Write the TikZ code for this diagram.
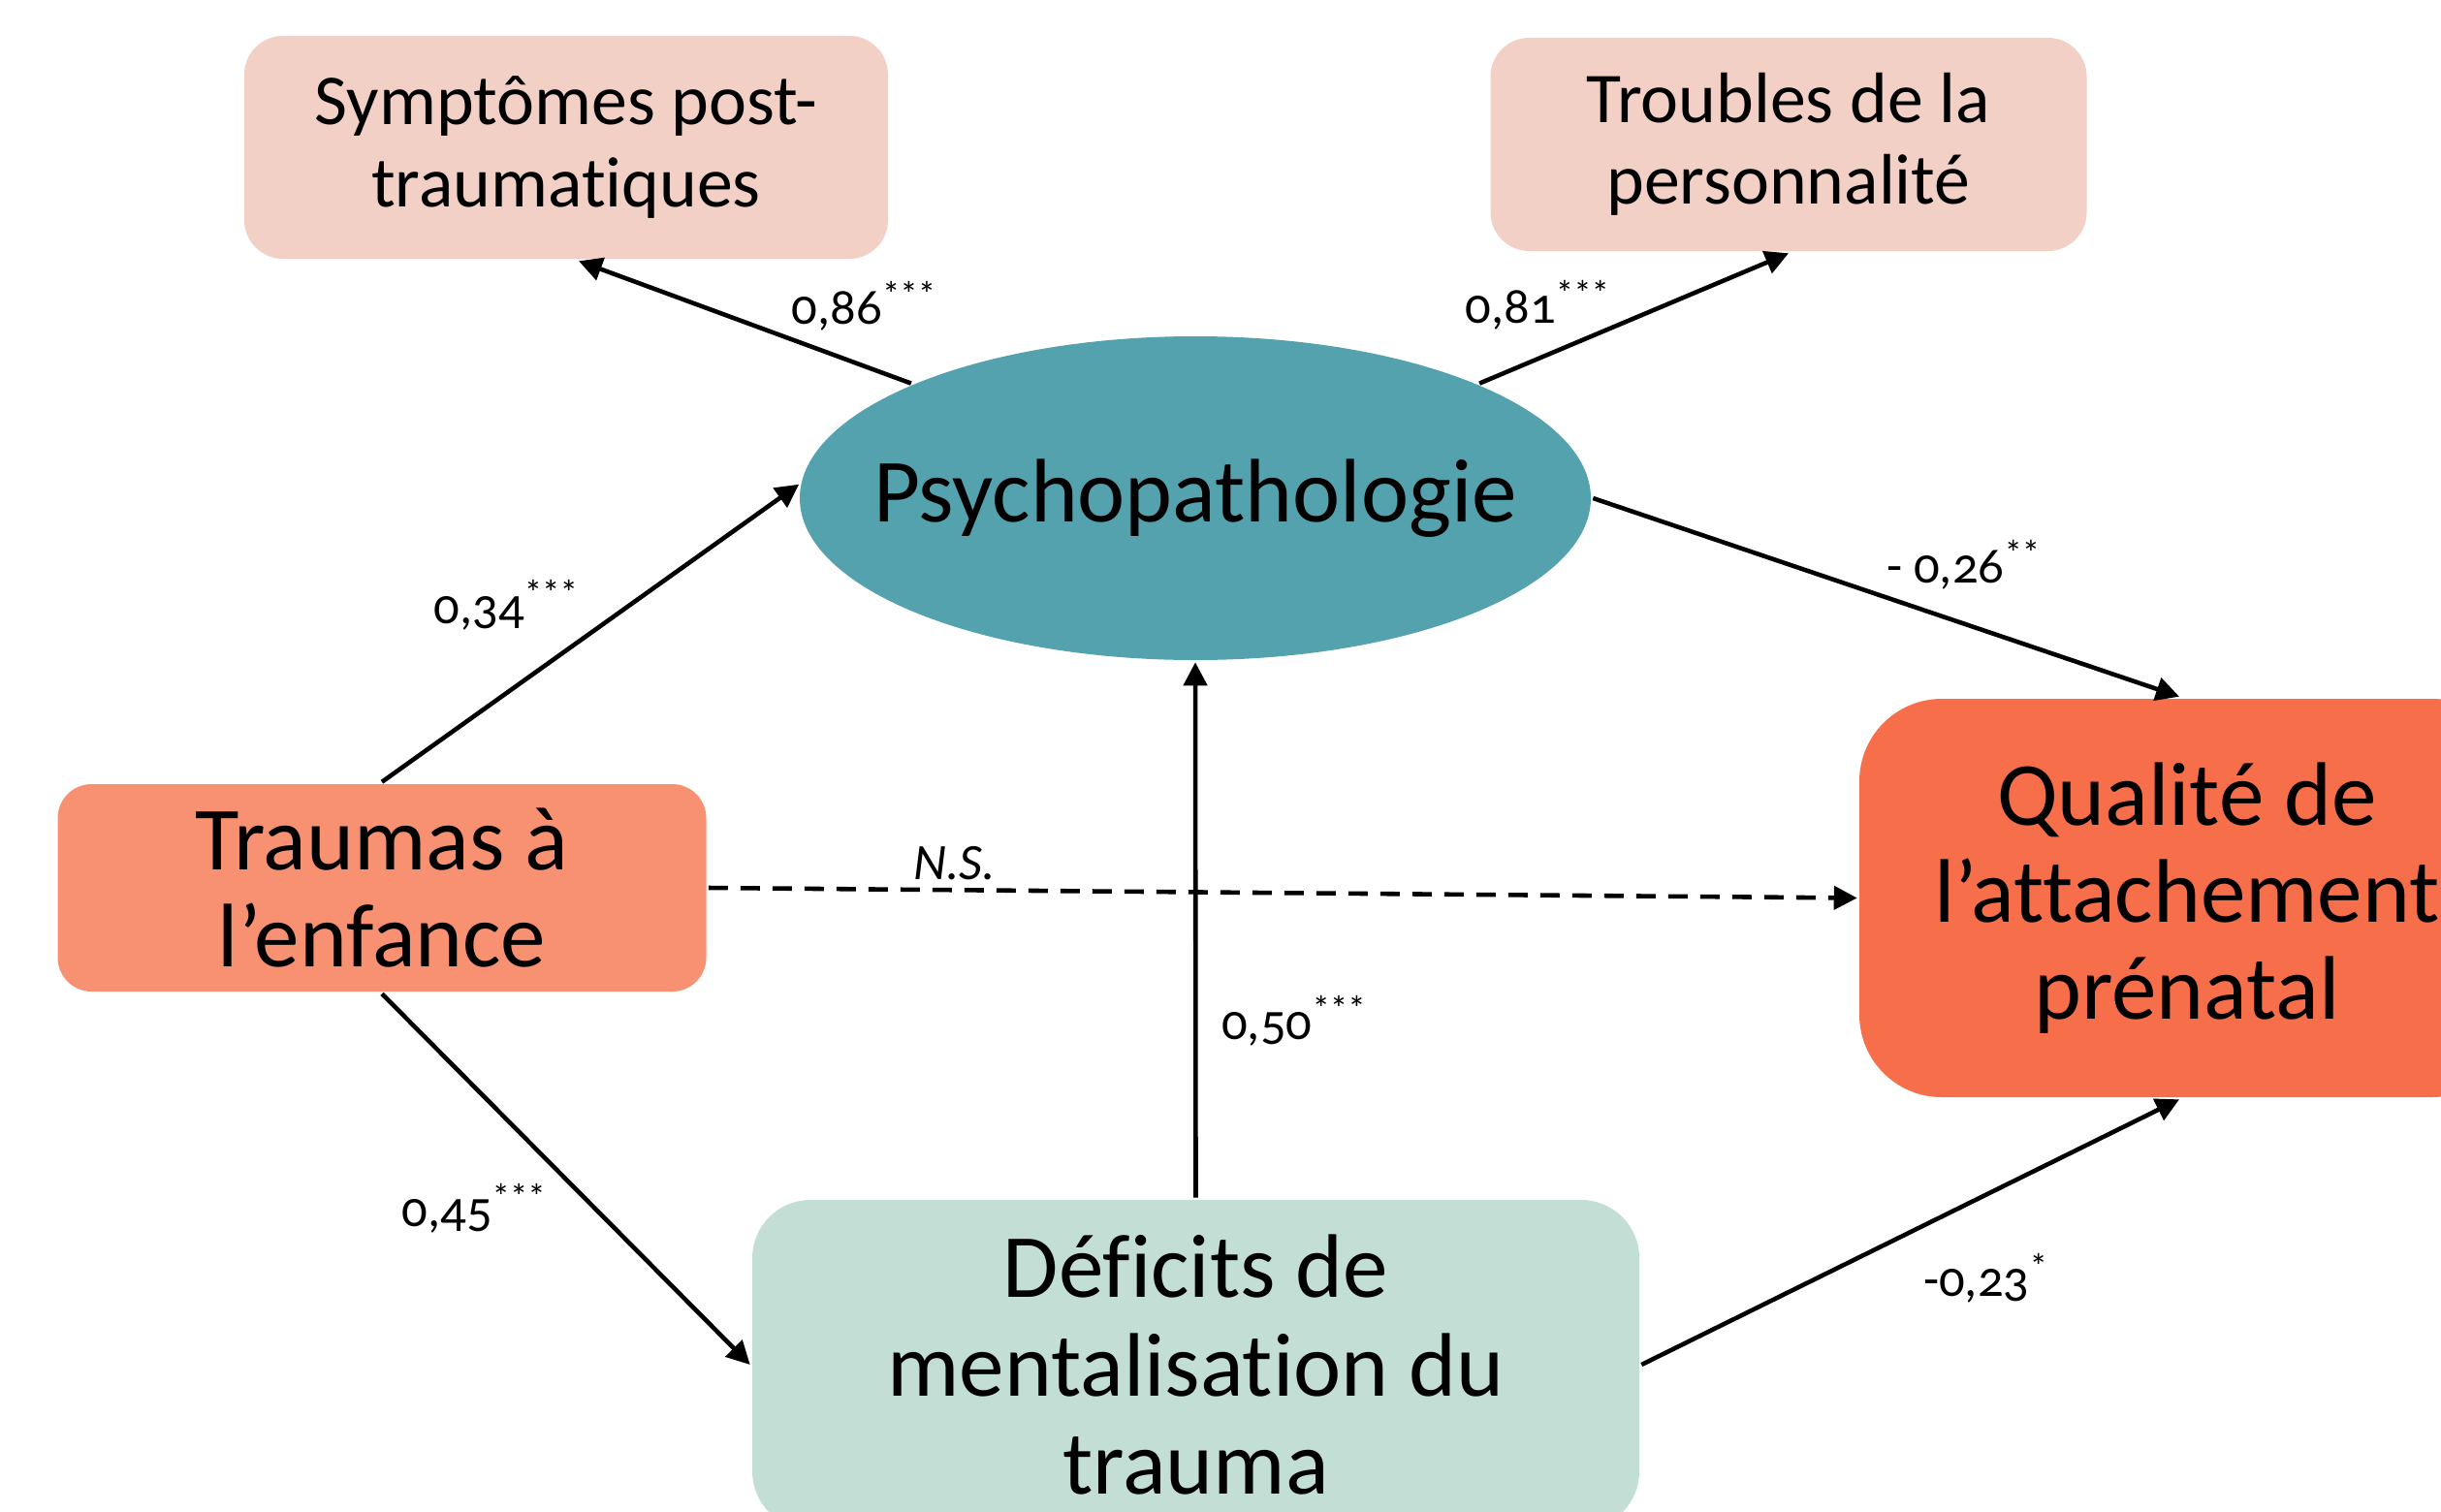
\documentclass[tikz,border=0pt]{standalone}
\usepackage{fontspec}
\setmainfont{Carlito}[Numbers=OldStyle, Ligatures=NoCommon]
\usepackage{tikz}
\usetikzlibrary{positioning,shapes,arrows.meta}
\definecolor{rosepale}{RGB}{242,208,198}
\definecolor{tealpsy}{RGB}{85,162,175}
\definecolor{saumon}{RGB}{247,145,114}
\definecolor{corail}{RGB}{247,110,75}
\definecolor{menthe}{RGB}{195,223,213}
\tikzstyle{sy}=[%
      rectangle, rounded corners=0.4cm, fill=rosepale, draw=none,
      align=center, inner sep=0pt, font=\fontsize{21}{24}\selectfont
]
\tikzstyle{ps}=[%
      ellipse, fill=tealpsy, draw=none,
      inner sep=0pt, minimum width=8.16cm, minimum height=3.34cm, font=\fontsize{26.5}{30}\selectfont
]
\tikzstyle{vr}=[%
      rectangle, draw=none, align=center, inner sep=0pt,
      font=\fontsize{26.5}{28.5}\selectfont
]
\tikzstyle{coef}=[%
      draw=none, inner sep=1pt, font=\fontsize{15}{17}\selectfont
]

\begin{document}
\begin{tikzpicture}[
    line width=1.3pt,
    -{Triangle[length=2.4mm,width=2.4mm]}
  ]
    \path[-, use as bounding box] (0,0) rectangle (25.18,-15.59);
    \clip (0,0) rectangle (25.18,-15.59);

    \node[sy, minimum width=6.64cm, minimum height=2.30cm]  (sym) at (5.84,-1.52)  {Symptômes post-\\traumatiques};
    \node[sy, minimum width=6.15cm, minimum height=2.20cm]  (trb) at (18.45,-1.49) {Troubles de la\\personnalité};
    \node[ps]  (psy) at (12.33,-5.14) {\makebox[0pt]{Psychopathologie}};
    \node[vr, fill=saumon, rounded corners=0.35cm, minimum width=6.69cm, minimum height=2.14cm]  (tra) at (3.94,-9.16)  {Traumas à\\l’enfance};
    \node[vr, fill=corail, rounded corners=0.85cm, minimum width=6.76cm, minimum height=4.11cm]  (qua) at (22.56,-9.265) {Qualité de\\l’attachement\\prénatal};
    \node[vr, fill=menthe, rounded corners=0.6cm, minimum width=9.15cm, minimum height=3.40cm, font=\fontsize{26.5}{29}\selectfont]  (def) at (12.335,-14.08) {Déficits de\\mentalisation du\\trauma};

    \path (psy.158.6) edge node[coef, pos=0.14, yshift=0.62cm] {0,86\textsuperscript{***}} ([xshift=0.13cm]sym.south)
          (psy.22.8)  edge node[coef, pos=0.19, yshift=0.55cm] {0,81\textsuperscript{***}} (trb.south)
          (tra.north) edge node[coef, pos=0.594, xshift=-1.27cm] {0,34\textsuperscript{***}} (psy.178.2)
          (psy.east)  edge node[coef, pos=0.633, yshift=0.61cm] {- 0,26\textsuperscript{**}} ([xshift=-0.08cm]qua.north)
          (tra.east)  edge[dash pattern=on 0.2cm off 0.13cm] node[coef, pos=0.214, yshift=0.28cm] {\textit{N.S.}} (qua.west)
          (def.north) edge node[coef, pos=0.33, xshift=1.02cm] {0,50\textsuperscript{***}} (psy.south)
          (tra.south) edge node[coef, pos=0.578, xshift=-1.24cm] {0,45\textsuperscript{***}} (def.west)
          (def.east)  edge node[coef, pos=0.641, yshift=-0.86cm] {-0,23\textsuperscript{*}} ([xshift=-0.08cm]qua.south)
    ;

  \end{tikzpicture}
\end{document}
